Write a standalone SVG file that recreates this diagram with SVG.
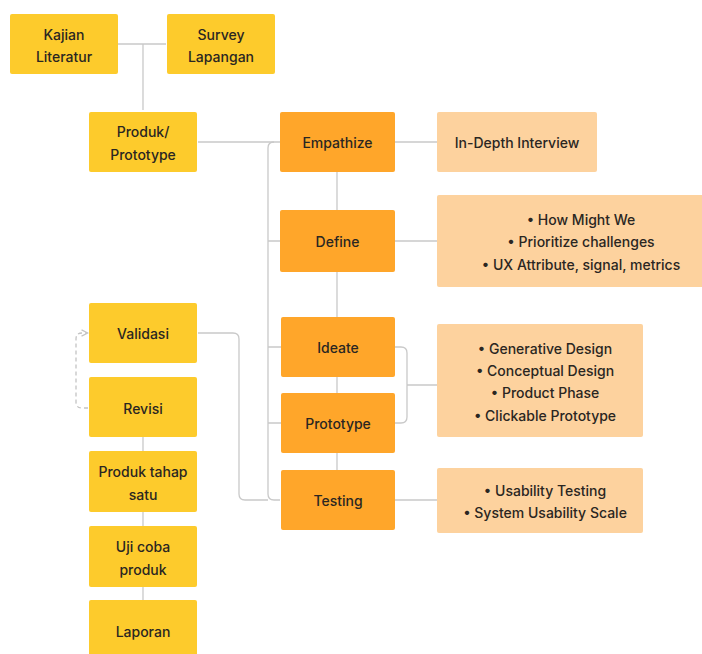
<svg xmlns="http://www.w3.org/2000/svg" width="702" height="654" viewBox="0 0 702 654">
  <style>
    .y { fill: #FDCB2C; }
    .o { fill: #FFA62A; }
    .p { fill: #FDD29E; }
    .t { font-family: Inter, "Noto Sans", "Liberation Sans", sans-serif; font-size: 14px; font-weight: 500; fill: #2A2622; text-anchor: middle; dominant-baseline: central; }
    .ln { fill: none; stroke: #C9C9C9; stroke-width: 1.3; }
    .dash { fill: none; stroke: #C4C4C4; stroke-width: 1.3; stroke-dasharray: 4 3; }
  </style>
  <defs>
    <marker id="arr" viewBox="0 0 10 10" refX="8" refY="5" markerWidth="6" markerHeight="6" orient="auto">
      <path d="M1,1 L9,5 L1,9" fill="none" stroke="#C4C4C4" stroke-width="1.6"/>
    </marker>
  </defs>
  <rect width="702" height="654" fill="#FFFFFF"/>

  <g id="connectors">
    <!-- sources to product -->
    <path class="ln" d="M118,44 H166 M143,44 V110"/>
    <!-- product to design thinking spine -->
    <path class="ln" d="M198,142 H280"/>
    <path class="ln" d="M274,142 Q268,142 268,148 V494 Q268,500 274,500 H280"/>
    <path class="ln" d="M268,241 H280 M268,347 H281 M268,423 H281"/>
    <!-- stage chain -->
    <path class="ln" d="M337,172 V210 M337,272 V317 M337,377 V393 M337,453 V470"/>
    <!-- stage to outputs -->
    <path class="ln" d="M395,142 H437 M395,241 H437 M395,500 H437"/>
    <path class="ln" d="M395,347 H401 Q407,347 407,353 V417 Q407,423 401,423 H395 M407,385 H437"/>
    <!-- validation to testing -->
    <path class="ln" d="M198,333 H233 Q239,333 239,339 V494 Q239,500 245,500 H268"/>
    <!-- revision loop -->
    <path class="dash" d="M88,408 H82 Q76,408 76,402 V339 Q76,333 82,333 H87" marker-end="url(#arr)"/>
    <!-- report chain -->
    <path class="ln" d="M143,437 V451 M143,512 V526 M143,587 V600"/>
  </g>

  <g id="kajian"><rect class="y" x="10" y="14" width="108" height="60" rx="2"/><text class="t" x="64" y="34">Kajian</text><text class="t" x="64" y="56">Literatur</text></g>
  <g id="survey"><rect class="y" x="167" y="14" width="108" height="60" rx="2"/><text class="t" x="221" y="34">Survey</text><text class="t" x="221" y="56">Lapangan</text></g>
  <g id="produk"><rect class="y" x="89" y="112" width="108" height="60" rx="2"/><text class="t" x="143" y="131">Produk/</text><text class="t" x="143" y="154">Prototype</text></g>

  <g id="empathize"><rect class="o" x="280" y="112" width="115" height="60" rx="2"/><text class="t" x="337.5" y="142">Empathize</text></g>
  <g id="define"><rect class="o" x="280" y="210" width="115" height="62" rx="2"/><text class="t" x="337.5" y="241">Define</text></g>
  <g id="ideate"><rect class="o" x="281" y="317" width="114" height="60" rx="2"/><text class="t" x="338" y="347">Ideate</text></g>
  <g id="prototype"><rect class="o" x="281" y="393" width="114" height="60" rx="2"/><text class="t" x="338" y="423">Prototype</text></g>
  <g id="testing"><rect class="o" x="281" y="470" width="114" height="60" rx="2"/><text class="t" x="338" y="500">Testing</text></g>

  <g id="interview"><rect class="p" x="437" y="112" width="160" height="60" rx="2"/><text class="t" x="517" y="142">In-Depth Interview</text></g>
  <g id="define-out"><rect class="p" x="437" y="195" width="270" height="92" rx="2"/>
    <text class="t" x="581" y="219">•  How Might We</text>
    <text class="t" x="581" y="241">•  Prioritize challenges</text>
    <text class="t" x="581" y="264">•  UX Attribute, signal, metrics</text></g>
  <g id="ideate-out"><rect class="p" x="437" y="324" width="206" height="113" rx="2"/>
    <text class="t" x="545" y="348">•  Generative Design</text>
    <text class="t" x="545" y="370">•  Conceptual Design</text>
    <text class="t" x="545" y="392">•  Product Phase</text>
    <text class="t" x="545" y="415">•  Clickable Prototype</text></g>
  <g id="testing-out"><rect class="p" x="437" y="468" width="206" height="65" rx="2"/>
    <text class="t" x="545" y="490">•  Usability Testing</text>
    <text class="t" x="545" y="512">•  System Usability Scale</text></g>

  <g id="validasi"><rect class="y" x="89" y="303" width="108" height="60" rx="2"/><text class="t" x="143" y="333">Validasi</text></g>
  <g id="revisi"><rect class="y" x="89" y="377" width="108" height="60" rx="2"/><text class="t" x="143" y="408">Revisi</text></g>
  <g id="tahap-satu"><rect class="y" x="89" y="451" width="108" height="61" rx="2"/><text class="t" x="143" y="471">Produk tahap</text><text class="t" x="143" y="494">satu</text></g>
  <g id="uji-coba"><rect class="y" x="89" y="526" width="108" height="61" rx="2"/><text class="t" x="143" y="546">Uji coba</text><text class="t" x="143" y="569">produk</text></g>
  <g id="laporan"><rect class="y" x="89" y="600" width="108" height="60" rx="2"/><text class="t" x="143" y="631">Laporan</text></g>
</svg>
